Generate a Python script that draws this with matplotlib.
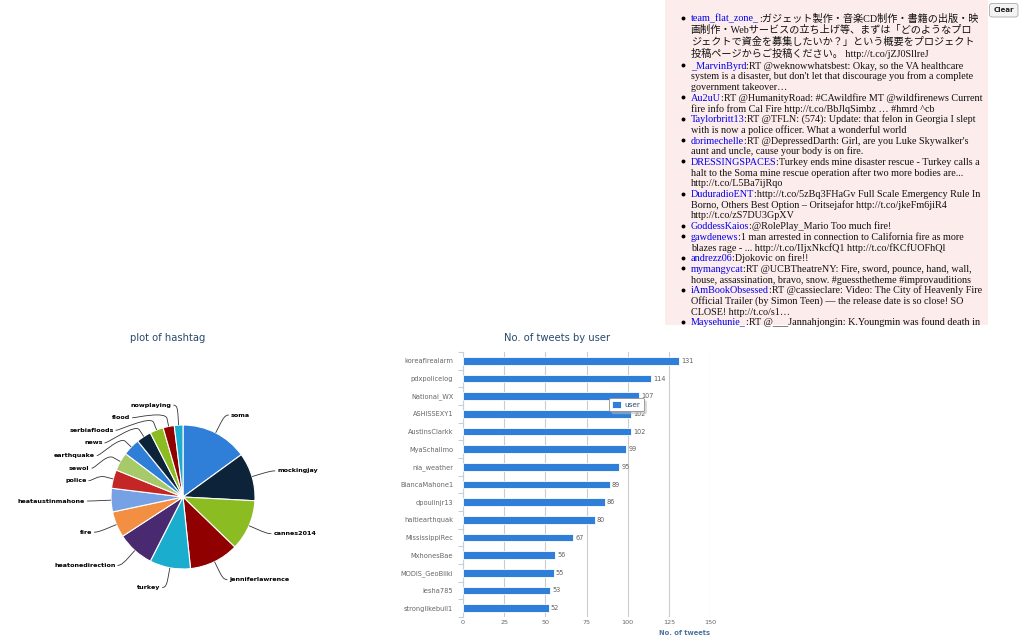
import matplotlib
matplotlib.use("Agg")
import matplotlib.pyplot as plt
from matplotlib.patches import Rectangle, FancyBboxPatch, PathPatch
from matplotlib.path import Path
import numpy as np

# ── figure size in pixels (dpi 100)
W, H = 1024, 642

# ── pie data: hashtags
hashtags = ["soma", "mockingjay", "cannes2014", "jenniferlawrence", "turkey",
            "heatonedirection", "fire", "heataustinmahone", "police", "sewol",
            "earthquake", "news", "serbiafloods", "flood", "nowplaying"]
hashtag_counts = [54, 39, 41, 40, 33, 30, 21, 19, 15, 15, 14, 12, 11, 9, 7]

# ── bar data: tweets per user
users = ["koreafirealarm", "pdxpolicelog", "National_WX", "ASHISSEXY1",
         "AustinsClarkk", "MyaSchallmo", "nia_weather", "BiancaMahone1",
         "dpoulinjr13", "haitiearthquak", "MississippiRec", "MxhonesBae",
         "MODIS_GeoBliki", "iesha785", "stronglikebull1"]
user_tweets = [131, 114, 107, 102, 102, 99, 95, 89, 86, 80, 67, 56, 55, 53, 52]
x_ticks = [0, 25, 50, 75, 100, 125, 150]

# ── tweet feed
tweet_users = ["team_flat_zone_", "_MarvinByrd", "Au2uU", "Taylorbritt13",
               "dorimechelle", "DRESSINGSPACES", "DuduradioENT", "GoddessKaios",
               "gawdenews", "andrezz06", "mymangycat", "iAmBookObsessed",
               "Maysehunie_"]
tweet_lines = [
    [":ガジェット製作・音楽CD制作・書籍の出版・映",
     "画制作・Webサービスの立ち上げ等、まずは「どのようなプロ",
     "ジェクトで資金を募集したいか？」という概要をプロジェクト",
     "投稿ページからご投稿ください。 http://t.co/jZJ0SllreJ"],
    [":RT @weknowwhatsbest: Okay, so the VA healthcare",
     "system is a disaster, but don't let that discourage you from a complete",
     "government takeover…"],
    [":RT @HumanityRoad: #CAwildfire MT @wildfirenews Current",
     "fire info from Cal Fire http://t.co/BbJlqSimbz … #hmrd ^cb"],
    [":RT @TFLN: (574): Update: that felon in Georgia I slept",
     "with is now a police officer. What a wonderful world"],
    [":RT @DepressedDarth: Girl, are you Luke Skywalker's",
     "aunt and uncle, cause your body is on fire."],
    [":Turkey ends mine disaster rescue - Turkey calls a",
     "halt to the Soma mine rescue operation after two more bodies are...",
     "http://t.co/L5Ba7ijRqo"],
    [":http://t.co/5zBq3FHaGv Full Scale Emergency Rule In",
     "Borno, Others Best Option – Oritsejafor http://t.co/jkeFm6jiR4",
     "http://t.co/zS7DU3GpXV"],
    [":@RolePlay_Mario Too much fire!"],
    [":1 man arrested in connection to California fire as more",
     "blazes rage - ... http://t.co/IIjxNkcfQ1 http://t.co/fKCfUOFhQl"],
    [":Djokovic on fire!!"],
    [":RT @UCBTheatreNY: Fire, sword, pounce, hand, wall,",
     "house, assassination, bravo, snow. #guessthetheme #improvauditions"],
    [":RT @cassieclare: Video: The City of Heavenly Fire",
     "Official Trailer (by Simon Teen) — the release date is so close! SO",
     "CLOSE! http://t.co/s1…"],
    [":RT @___Jannahjongin: K.Youngmin was found death in"],
]

HC_COLORS = ["#2f7ed8", "#0d233a", "#8bbc21", "#910000", "#1aadce",
             "#492970", "#f28f43", "#77a1e5", "#c42525", "#a6c96a"]
TITLE_COLOR = "#274b6d"
SERIF = ["Liberation Serif", "Noto Sans CJK JP"]


def rect(x0, y0, x1, y1):
    """pixel box (top-left origin) -> figure fraction rect"""
    return [x0 / W, 1 - y1 / H, (x1 - x0) / W, (y1 - y0) / H]


fig = plt.figure(figsize=(W / 100, H / 100), dpi=100)
fig.patch.set_facecolor("white")

# ──────────────────────────────────────────────
# Bar chart — No. of tweets by user
# ──────────────────────────────────────────────
ax_bar = fig.add_axes(rect(463, 352, 710, 617))
n = len(users)
ypos = np.arange(n)
ax_bar.barh(ypos, user_tweets, height=0.42, color=HC_COLORS[0],
            edgecolor="white", linewidth=0.6, zorder=3, label="user")
ax_bar.set_xlim(0, 150)
ax_bar.set_ylim(n - 0.5, -0.5)
ax_bar.set_xticks(x_ticks)
ax_bar.set_xticklabels([str(t) for t in x_ticks])
ax_bar.set_yticks(ypos)
ax_bar.set_yticklabels(users)
ax_bar.set_yticks(np.arange(n + 1) - 0.5, minor=True)
ax_bar.grid(axis="x", color="#cccccc", linewidth=0.8, zorder=0)
for side in ["top", "right", "bottom"]:
    ax_bar.spines[side].set_visible(False)
ax_bar.spines["left"].set_color("#c0d0e0")
ax_bar.spines["left"].set_linewidth(0.8)
ax_bar.tick_params(axis="y", which="major", length=0, pad=7,
                   labelsize=4.8, labelcolor="#666666")
ax_bar.tick_params(axis="y", which="minor", length=3.5, width=0.8,
                   color="#c0d0e0")
ax_bar.tick_params(axis="x", length=0, pad=2.5, labelsize=4.6,
                   labelcolor="#666666")

for i, v in enumerate(user_tweets):
    ax_bar.text(v + 1.3, i, str(v), va="center", ha="left",
                fontsize=4.7, color="#606060", zorder=4)

leg = ax_bar.legend(loc="center", bbox_to_anchor=(626.5 / W, 1 - 404.5 / H),
                    bbox_transform=fig.transFigure, fontsize=5.3,
                    frameon=True, fancybox=True,
                    shadow={"color": "#bbbbbb", "alpha": 0.5},
                    handlelength=1.2, handleheight=1.1, borderpad=0.4,
                    handletextpad=0.5, labelcolor=TITLE_COLOR)
leg.get_frame().set_edgecolor("#909090")
leg.get_frame().set_linewidth(0.6)

# ──────────────────────────────────────────────
# Pie chart — plot of hashtag
# ──────────────────────────────────────────────
CX, CY, R = 183, 497, 72
ax_pie = fig.add_axes(rect(CX - 180, CY - 180, CX + 180, CY + 180))
pie_colors = [HC_COLORS[i % len(HC_COLORS)] for i in range(len(hashtags))]
ax_pie.pie(hashtag_counts, colors=pie_colors, radius=R, startangle=90,
           counterclock=False,
           wedgeprops=dict(edgecolor="white", linewidth=0.8))
ax_pie.set_xlim(-180, 180)
ax_pie.set_ylim(-180, 180)
ax_pie.axis("off")

# label layout: distance outside the pie, pushed apart on each side
frac = np.array(hashtag_counts, dtype=float) / sum(hashtag_counts)
cum = np.cumsum(frac)
mid = (cum - frac / 2) * 2 * np.pi          # clockwise from 12 o'clock
R_LAB = R + 20
STEP = 12.6
label_y = R_LAB * np.cos(mid)
sides = np.where(np.sin(mid) >= 0, 1, -1)

for s in (1, -1):
    idx = [i for i in range(len(hashtags)) if sides[i] == s]
    idx.sort(key=lambda i: -label_y[i])
    prev = None
    for i in idx:
        if prev is not None and label_y[i] > prev - STEP:
            label_y[i] = prev - STEP
        prev = label_y[i]

for i, name in enumerate(hashtags):
    s = sides[i]
    y = label_y[i]
    xl = s * np.sqrt(max(R_LAB ** 2 - y ** 2, 0))
    ax_pie.text(xl + s * 6, y, name, ha="left" if s > 0 else "right",
                va="center", fontsize=4.6, fontweight="bold", color="#000000")
    p2 = np.array([(R + 8) * np.sin(mid[i]), (R + 8) * np.cos(mid[i])])
    p4 = np.array([R * np.sin(mid[i]), R * np.cos(mid[i])])
    c2 = 2 * p2 - p4
    verts = [(xl + s * 4, y), (xl, y), tuple(c2), tuple(p2), tuple(p4)]
    codes = [Path.MOVETO, Path.CURVE4, Path.CURVE4, Path.CURVE4, Path.LINETO]
    ax_pie.add_patch(PathPatch(Path(verts, codes), fill=False,
                               edgecolor="#333333", linewidth=0.6))

# ──────────────────────────────────────────────
# Overlay — titles, tweet feed, button
# ──────────────────────────────────────────────
ax_o = fig.add_axes([0, 0, 1, 1])
ax_o.set_xlim(0, W)
ax_o.set_ylim(H, 0)
ax_o.axis("off")
ax_o.patch.set_alpha(0)

ax_o.text(557, 338, "No. of tweets by user", ha="center", va="center",
          fontsize=7.2, color=TITLE_COLOR)
ax_o.text(168, 338, "plot of hashtag", ha="center", va="center",
          fontsize=7.2, color=TITLE_COLOR)
ax_o.text(710, 633, "No. of tweets", ha="right", va="center",
          fontsize=4.9, fontweight="bold", color="#4d759e")

# tweet box
box = Rectangle((665, 0), 323, 325, facecolor="#fdecec", edgecolor="none")
ax_o.add_patch(box)

renderer = fig.canvas.get_renderer()
y_center = 18.5
prev_cjk = False
first = True
for user, lines in zip(tweet_users, tweet_lines):
    for j, line in enumerate(lines):
        if not first:
            y_center += 11.8 if prev_cjk else 10.7
        first = False
        base = y_center + 3
        x0 = 690.7
        if j == 0:
            dot, = ax_o.plot(683.3, y_center - 0.5, "o", color="black",
                             markersize=1.8)
            dot.set_clip_path(box)
            t = ax_o.text(x0, base, user, fontsize=7.3, family=SERIF,
                          color="#0000ee", va="baseline", ha="left")
            t.set_clip_path(box)
            x0 += t.get_window_extent(renderer=renderer).width
        t2 = ax_o.text(x0, base, line, fontsize=7.3, family=SERIF,
                       color="#111111", va="baseline", ha="left")
        t2.set_clip_path(box)
        prev_cjk = any(ord(c) > 0x2E80 for c in line)

# clear button
btn = FancyBboxPatch((989.5, 3.5), 28.5, 13.5,
                     boxstyle="round,pad=0,rounding_size=2.5",
                     facecolor="#f3f3f3", edgecolor="#a8a8a8", linewidth=0.6)
ax_o.add_patch(btn)
ax_o.text(1003.7, 10.3, "Clear", ha="center", va="center", fontsize=5.0,
          fontweight="bold", color="#222222")

fig.savefig("out.png", dpi=100, facecolor="white")
